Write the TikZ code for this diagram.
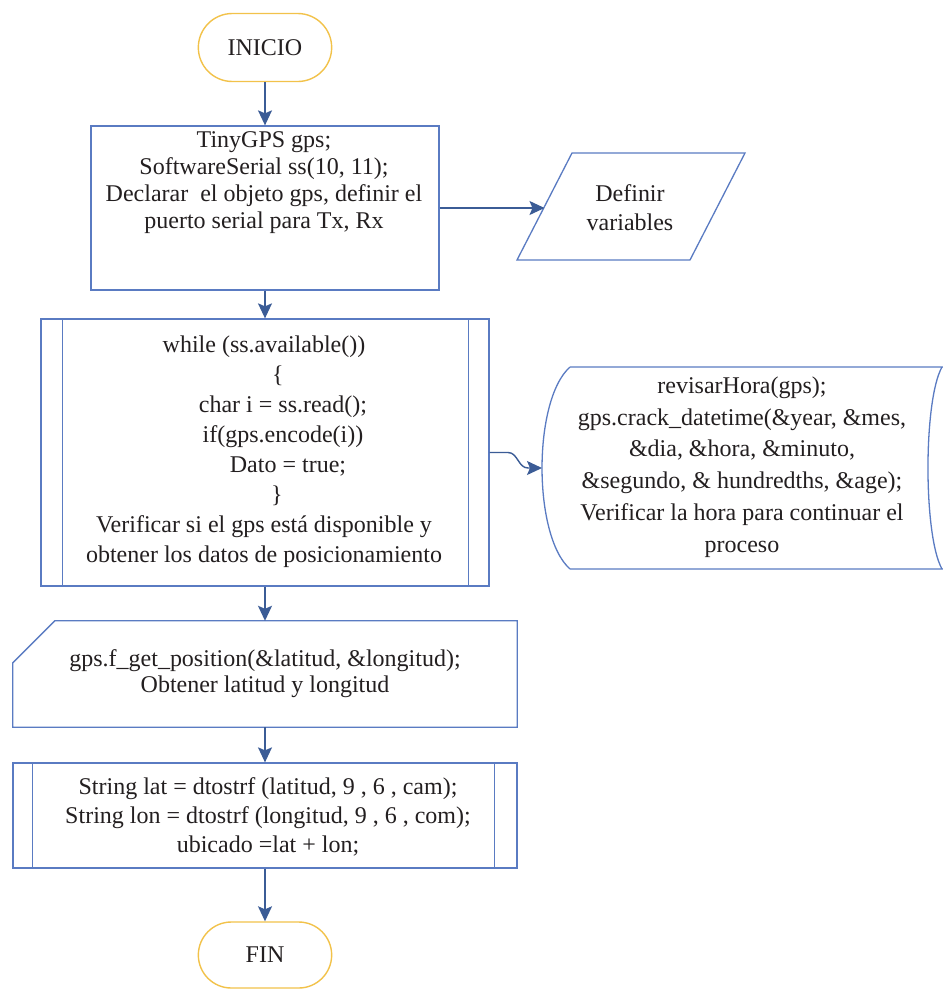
\documentclass[tikz,border=0pt]{standalone}
\usepackage{fontspec}
\setmainfont{Liberation Serif}
\usetikzlibrary{arrows.meta,shapes.misc}

\definecolor{lineblue}{HTML}{5A7BC2}
\definecolor{arrowblue}{HTML}{3B5C96}
\definecolor{termgold}{HTML}{F2C24A}
\definecolor{inkdark}{HTML}{231F20}

\tikzset{
  boxline/.style={draw=lineblue, line width=1.3pt},
  term/.style={rounded rectangle, draw=termgold, line width=1.4pt, fill=white,
    minimum width=140pt, minimum height=68pt, text=inkdark,
    font=\fontsize{24}{28}\selectfont},
  txt/.style={align=center, text=inkdark, inner sep=0pt},
  arr/.style={draw=arrowblue, line width=1.4pt,
    -{Stealth[length=15pt,width=14pt,inset=3pt]}},
}

\begin{document}
\begin{tikzpicture}[x=1pt,y=1pt]
\useasboundingbox[fill=white] (0,0) rectangle (943,-989);

% start terminal
\node[term] (inicio) at (265,-47.5) {INICIO};

% declarations
\node[boxline, minimum width=348pt, minimum height=164pt] (decl) at (265,-208) {};
\node[txt, font=\fontsize{24}{27}\selectfont] (declT) at (264,-183)
  {TinyGPS gps;\\ SoftwareSerial ss(10, 11);\\ Declarar\ \ el objeto gps, definir el\\ puerto serial para Tx, Rx};

% data: define variables
\draw[boxline] (572,-153) -- (745,-153) -- (690,-260) -- (517,-260) -- cycle;
\coordinate (defIn) at (544.5,-208);
\node[txt, font=\fontsize{24}{29}\selectfont] (defvar) at (630,-207.5) {Definir\\ variables};

% predefined process: reading loop
\node[boxline, minimum width=448pt, minimum height=267pt] (loop) at (265,-452.5) {};
\draw[boxline] ([xshift=22pt]loop.north west) -- ([xshift=22pt]loop.south west);
\draw[boxline] ([xshift=-21pt]loop.north east) -- ([xshift=-21pt]loop.south east);
\node[txt, font=\fontsize{24}{30}\selectfont] (loopT) at (264,-452)
  {while (ss.available())\\
   \hspace*{28pt}\{\\
   \hspace*{38pt}char i = ss.read();\\
   \hspace*{38pt}if(gps.encode(i))\\
   \hspace*{48pt}Dato = true;\\
   \hspace*{26pt}\}\\
   Verificar si el gps está disponible y\\
   obtener los datos de posicionamiento};

% stored data: time check
\draw[boxline] (570,-367) -- (943,-367)
  (570,-569) -- (943,-569)
  (570,-367) .. controls (532.7,-400) and (532.7,-536) .. (570,-569)
  (942,-367) .. controls (923.3,-400) and (923.3,-536) .. (942,-569);
\coordinate (storeIn) at (542,-468);
\node[txt, font=\fontsize{24}{31.7}\selectfont] (store) at (742,-467)
  {revisarHora(gps);\\
   gps.crack\_datetime(\&year, \&mes,\\
   \&dia, \&hora, \&minuto,\\
   \&segundo, \& hundredths, \&age);\\
   Verificar la hora para continuar el\\
   proceso};

% manual input: position
\node[txt, minimum width=504pt, minimum height=106pt, font=\fontsize{24}{26}\selectfont] (manual) at (265,-674)
  {gps.f\_get\_position(\&latitud, \&longitud);\\ Obtener latitud y longitud};
\draw[boxline] ([yshift=-42pt]manual.north west) -- ([xshift=42pt]manual.north west)
  -- (manual.north east) -- (manual.south east) -- (manual.south west) -- cycle;

% predefined process: strings
\node[boxline, minimum width=504pt, minimum height=105pt] (conv) at (265,-815.5) {};
\draw[boxline] ([xshift=20pt]conv.north west) -- ([xshift=20pt]conv.south west);
\draw[boxline] ([xshift=-23pt]conv.north east) -- ([xshift=-23pt]conv.south east);
\node[txt, font=\fontsize{24}{29}\selectfont] (convT) at (268,-817)
  {String lat = dtostrf (latitud, 9 , 6 , cam);\\
   String lon = dtostrf (longitud, 9 , 6 , com);\\
   ubicado =lat + lon;};

% end terminal
\node[term, minimum height=66pt] (fin) at (265,-955) {FIN};

% connectors
\draw[arr] (inicio.south) -- (decl.north);
\draw[arr] (decl.east) -- (defIn);
\draw[arr] (decl.south) -- (loop.north);
\draw[arr] (loop.east) -- (508,-452.5) to[out=0,in=180] (528,-468) -- (storeIn);
\draw[arr] (loop.south) -- (manual.north);
\draw[arr] (manual.south) -- (conv.north);
\draw[arr] (conv.south) -- (fin.north);
\end{tikzpicture}
\end{document}
